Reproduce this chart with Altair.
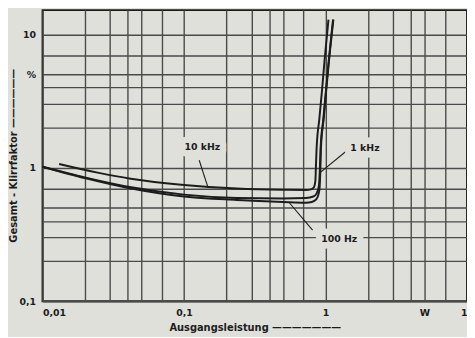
import altair as alt
import pandas as pd

BG = "#e0e0db"
INK = "#1c1c1c"
GRID = "#4a4a4a"
FONT = "DejaVu Sans"

# grid / tick positions
x_ticks = [0.01, 0.02, 0.03, 0.04, 0.05, 0.07, 0.1, 0.2, 0.3, 0.4, 0.5, 0.7,
           1, 2, 3, 4, 5, 7, 10]
y_ticks = [0.1, 0.2, 0.3, 0.4, 0.5, 0.7, 1, 2, 3, 4, 5, 7, 10]

# curves: output power (W) vs total harmonic distortion (%)
p_10k = [0.0131, 0.025, 0.042, 0.1, 0.236, 0.5, 0.726, 0.79, 0.83, 0.848,
         0.855, 0.865, 0.904, 0.945, 0.984, 1.049]
k_10k = [1.07, 0.917, 0.83, 0.745, 0.70, 0.685, 0.683, 0.69, 0.72, 0.80,
         1.0, 1.4, 2.32, 3.83, 6.35, 12.9]

p_1k = [0.01, 0.0202, 0.0424, 0.1, 0.236, 0.5, 0.726, 0.82, 0.87, 0.90,
        0.91, 0.923, 0.965, 1.008, 1.054, 1.13]
k_1k = [1.02, 0.845, 0.715, 0.63, 0.595, 0.59, 0.595, 0.61, 0.65, 0.75,
        0.92, 1.4, 2.32, 3.83, 6.35, 12.9]

p_100 = [0.01, 0.0202, 0.0424, 0.1, 0.236, 0.5, 0.726, 0.80, 0.86, 0.905,
         0.918, 0.928, 0.97, 1.012, 1.058, 1.137]
k_100 = [1.02, 0.835, 0.70, 0.61, 0.575, 0.555, 0.548, 0.555, 0.58, 0.68,
         0.92, 1.4, 2.32, 3.83, 6.35, 12.9]

# curve labels and their leader lines
lab_text = ["10 kHz", "1 kHz", "100 Hz"]
lab_x = [0.1346, 1.90, 1.25]
lab_y = [1.42, 1.40, 0.292]
lead_x1 = [0.128, 1.42, 0.81]
lead_y1 = [1.14, 1.35, 0.342]
lead_x2 = [0.148, 0.915, 0.553]
lead_y2 = [0.707, 0.92, 0.55]

rows = []
for name, ps, ks in [("10 kHz", p_10k, k_10k), ("1 kHz", p_1k, k_1k),
                     ("100 Hz", p_100, k_100)]:
    for i, (p, k) in enumerate(zip(ps, ks)):
        rows.append({"series": name, "i": i, "p": p, "k": k})
curves = pd.DataFrame(rows)
labels = pd.DataFrame({"t": lab_text, "x": lab_x, "y": lab_y})
leaders = pd.DataFrame({"x1": lead_x1, "y1": lead_y1, "x2": lead_x2, "y2": lead_y2})

xscale = alt.Scale(type="log", domain=[0.01, 10], nice=False)
yscale = alt.Scale(type="log", domain=[0.1, 15.2], nice=False)

xaxis = alt.Axis(
    values=x_ticks, grid=True, ticks=False, domain=False,
    labelExpr="datum.value == 0.01 ? '0,01' : datum.value == 0.1 ? '0,1' : "
              "datum.value == 1 ? '1' : datum.value == 5 ? 'W' : "
              "datum.value == 10 ? '10' : ''",
    labelAlign={"condition": {"test": "datum.value == 0.01", "value": "left"},
                "value": "center"},
    labelPadding=6,
    title="Ausgangsleistung ———————",
    titleY=30, titleX=215, titleBaseline="alphabetic",
)
yaxis = alt.Axis(
    values=y_ticks, grid=True, ticks=False, domain=False,
    labelExpr="datum.value == 0.1 ? '0,1' : datum.value == 1 ? '1' : "
              "datum.value == 10 ? '10' : datum.value == 5 ? '%' : ''",
    labelPadding=7,
    title="Gesamt - Klirrfaktor ——————",
    titleX=-29, titleY=147, titleBaseline="middle",
)

lines = alt.Chart(curves).mark_line(
    color=INK, strokeWidth=2.0, interpolate="monotone"
).encode(
    x=alt.X("p:Q", scale=xscale, axis=xaxis),
    y=alt.Y("k:Q", scale=yscale, axis=yaxis),
    detail="series:N",
    order="i:Q",
)

leads = alt.Chart(leaders).mark_rule(color=INK, strokeWidth=1.1).encode(
    x=alt.X("x1:Q", scale=xscale), y=alt.Y("y1:Q", scale=yscale),
    x2="x2:Q", y2="y2:Q",
)

halo = alt.Chart(labels).mark_text(
    font=FONT, fontSize=9.5, fontWeight="bold", color=BG, stroke=BG,
    strokeWidth=13, strokeJoin="round",
).encode(x=alt.X("x:Q", scale=xscale), y=alt.Y("y:Q", scale=yscale), text="t:N")

txt = alt.Chart(labels).mark_text(
    font=FONT, fontSize=9.5, fontWeight="bold", color=INK,
).encode(x=alt.X("x:Q", scale=xscale), y=alt.Y("y:Q", scale=yscale), text="t:N")

chart = alt.layer(lines, leads, halo, txt).properties(
    width=430, height=295,
    autosize=alt.AutoSizeParams(type="none"),
    padding={"left": 35, "top": 0, "right": 0, "bottom": 34},
    background=BG,
).configure_view(
    stroke=INK, strokeWidth=2, fill=BG,
).configure_axis(
    gridColor=GRID, gridWidth=1.4, gridOpacity=1,
    labelFont=FONT, labelFontSize=9.5, labelFontWeight="bold", labelColor=INK,
    titleFont=FONT, titleFontSize=10, titleFontWeight="bold", titleColor=INK,
)

chart.save("out.html", embed_options={"renderer": "svg", "actions": False})
